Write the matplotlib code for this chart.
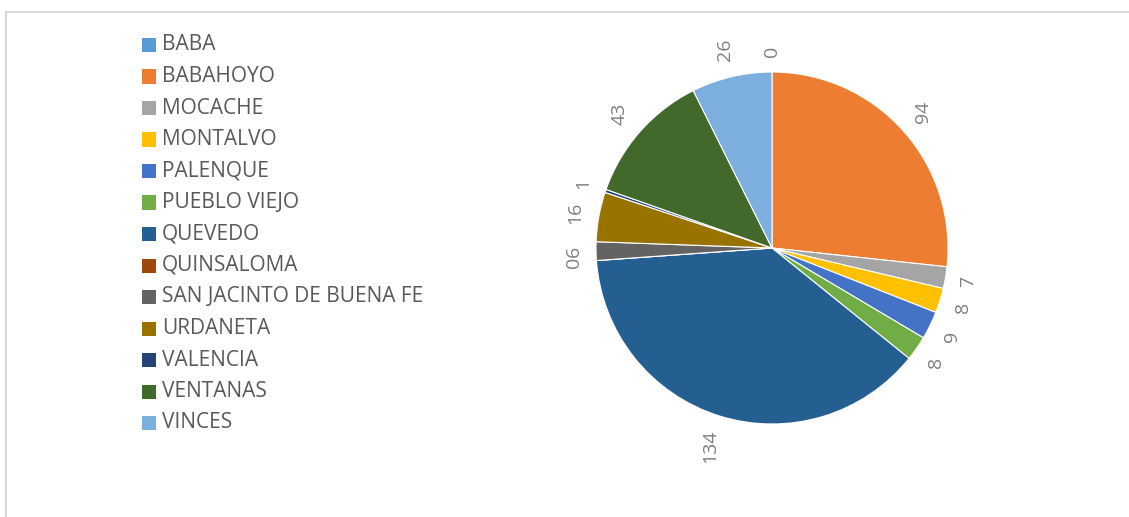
import numpy as np
import matplotlib
matplotlib.use("Agg")
import matplotlib.pyplot as plt
from matplotlib.patches import Rectangle
from matplotlib.lines import Line2D

plt.rcParams["font.family"] = ["Open Sans", "DejaVu Sans"]

cantones = [
    "BABA", "BABAHOYO", "MOCACHE", "MONTALVO", "PALENQUE", "PUEBLO VIEJO",
    "QUEVEDO", "QUINSALOMA", "SAN JACINTO DE BUENA FE", "URDANETA",
    "VALENCIA", "VENTANAS", "VINCES",
]
valores = [0, 94, 7, 8, 9, 8, 134, 0, 6, 16, 1, 43, 26]
colores = [
    "#5B9BD5", "#ED7D31", "#A5A5A5", "#FFC000", "#4472C4", "#70AD47",
    "#255E91", "#9E480E", "#636363", "#997300", "#264478", "#43682B",
    "#7CAFDD",
]

W, H = 1129, 517
fig = plt.figure(figsize=(W / 100, H / 100), dpi=100)

# chart area border (top and left visible)
fig.add_artist(Line2D([6 / W, 1], [1 - 12 / H, 1 - 12 / H], color="#D9D9D9", lw=1.5))
fig.add_artist(Line2D([6 / W, 6 / W], [0, 1 - 12 / H], color="#D9D9D9", lw=1.5))

# pie axes: center (772, 248) px, radius 176 px
cx, cy, R = 772, 248, 176
half = 250
ax = fig.add_axes([(cx - half) / W, (H - cy - half) / H, 2 * half / W, 2 * half / H])

ax.pie(valores, colors=colores, startangle=90, counterclock=False, radius=1,
       wedgeprops=dict(edgecolor="white", linewidth=0.8))
lim = half / R
ax.set_xlim(-lim, lim)
ax.set_ylim(-lim, lim)
ax.set_aspect("equal")
ax.axis("off")

# data labels, rotated 90 degrees, outside end
total = float(sum(valores))
cum = 0.0
fs = 14
for v in valores:
    mid = (cum + v / 2) / total * 2 * np.pi
    cum += v
    dx, dy = np.sin(mid), np.cos(mid)
    txt = str(v)
    w_px = 13.0
    h_px = 10.0 * len(txt)
    ext = abs(dx) * w_px / 2 + abs(dy) * h_px / 2
    d = 1 + (16 + ext) / R
    ax.text(dx * d, dy * d, txt, rotation=90, ha="center", va="center",
            fontsize=fs, color="#7F7F7F", clip_on=False)

# legend
for i, (name, col) in enumerate(zip(cantones, colores)):
    yc = 45 + i * 31.5
    fig.add_artist(Rectangle((142 / W, 1 - (yc + 7) / H), 14 / W, 14 / H,
                             facecolor=col, edgecolor="none"))
    fig.text(162 / W, 1 - yc / H, name, ha="left", va="center",
             fontsize=15, color="#595959")

fig.savefig("out.png", dpi=100)
